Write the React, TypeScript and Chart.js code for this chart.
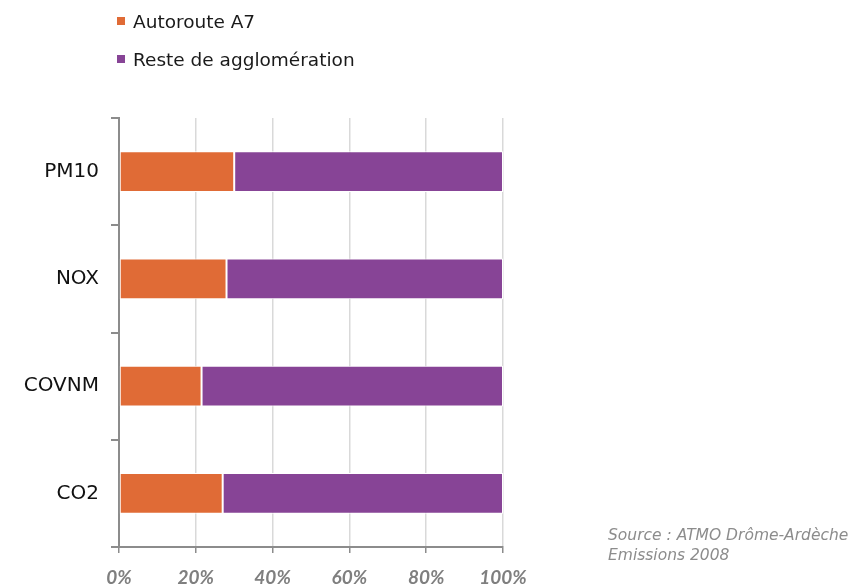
import React, { useEffect, useRef } from "react";
import { Chart, registerables } from "chart.js";

Chart.register(...registerables);

const categories = ["PM10", "NOX", "COVNM", "CO2"];
const autorouteA7 = [30, 28, 21.5, 27];
const resteAgglo = [70, 72, 78.5, 73];
const seriesNames = ["Autoroute A7", "Reste de agglomération"];
const seriesColors = ["#E06B36", "#874496"];
const sourceLines = ["Source : ATMO Drôme-Ardèche", "Emissions 2008"];

const FONT = "'DejaVu Sans', sans-serif";
const TICK_FONT = "Lato, 'Open Sans', sans-serif";

export default function App() {
  const ref = useRef<HTMLCanvasElement | null>(null);

  useEffect(() => {
    if (!ref.current) return;
    const chart = new Chart(ref.current, {
      type: "bar",
      data: {
        labels: categories,
        datasets: [
          {
            label: seriesNames[0],
            data: autorouteA7,
            backgroundColor: seriesColors[0],
            borderColor: "#ffffff",
            borderWidth: 1,
            borderSkipped: false,
            barPercentage: 0.38,
            categoryPercentage: 1,
          },
          {
            label: seriesNames[1],
            data: resteAgglo,
            backgroundColor: seriesColors[1],
            borderColor: "#ffffff",
            borderWidth: 1,
            borderSkipped: false,
            barPercentage: 0.38,
            categoryPercentage: 1,
          },
        ],
      },
      options: {
        indexAxis: "y",
        animation: false,
        responsive: false,
        maintainAspectRatio: false,
        layout: { padding: { top: 118, right: 351, left: 0, bottom: 0 } },
        plugins: {
          legend: { display: false },
          tooltip: { enabled: false },
        },
        scales: {
          x: {
            stacked: true,
            min: 0,
            max: 100,
            ticks: {
              stepSize: 20,
              callback: (v: any) => v + "%",
              color: "#7f7f7f",
              font: { family: TICK_FONT, size: 19, style: "italic", weight: "bold" },
              padding: 13,
              maxRotation: 0,
            },
            grid: {
              color: "#d9d9d9",
              lineWidth: 1.5,
              tickColor: "#8c8c8c",
              tickLength: 6,
            },
            border: { color: "#8c8c8c", width: 2 },
            afterFit: (s: any) => {
              s.height = 40;
            },
          },
          y: {
            stacked: true,
            offset: true,
            ticks: {
              color: "#111111",
              font: { family: FONT, size: 20 },
              padding: 12,
            },
            grid: {
              offset: true,
              drawOnChartArea: false,
              tickColor: "#8c8c8c",
              tickLength: 8,
              lineWidth: 2,
            },
            border: { color: "#8c8c8c", width: 2 },
            afterFit: (s: any) => {
              s.width = 119;
            },
          },
        },
      },
    });
    return () => chart.destroy();
  }, []);

  return (
    <div style={{ position: "absolute", left: 0, top: 0, width: 854, height: 587, background: "#fff", fontFamily: FONT }}>
      <canvas ref={ref} width={854} height={587} style={{ position: "absolute", left: 0, top: 0 }} />
      {seriesNames.map((n, i) => (
        <div
          key={n}
          style={{ position: "absolute", left: 117, top: 9 + i * 38, height: 24, display: "flex", alignItems: "center", fontSize: 18.5, color: "#1a1a1a" }}
        >
          <span style={{ display: "inline-block", width: 8, height: 8, background: seriesColors[i], marginRight: 8 }} />
          {n}
        </div>
      ))}
      <div style={{ position: "absolute", left: 608, top: 525, fontSize: 15.5, fontStyle: "italic", color: "#8c8c8c", lineHeight: "20px", whiteSpace: "nowrap" }}>
        {sourceLines.map((l) => (
          <div key={l}>{l}</div>
        ))}
      </div>
    </div>
  );
}
